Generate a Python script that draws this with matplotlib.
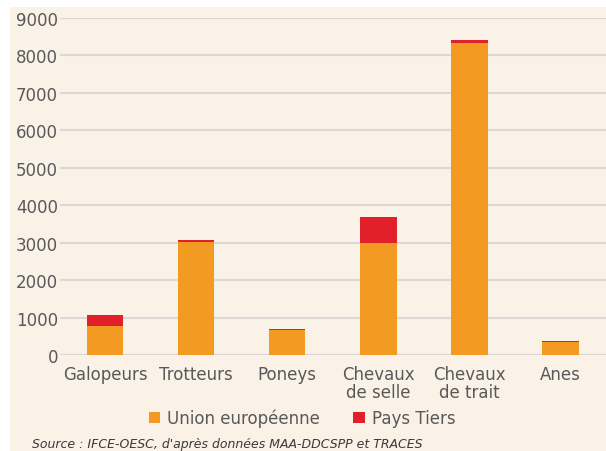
import matplotlib.pyplot as plt
from matplotlib.patches import Rectangle

# données
categories = ["Galopeurs", "Trotteurs", "Poneys", "Chevaux\nde selle", "Chevaux\nde trait", "Anes"]
union_europeenne = [780, 3010, 670, 2980, 8320, 335]
pays_tiers = [280, 50, 25, 710, 80, 28]
yticks = [0, 1000, 2000, 3000, 4000, 5000, 6000, 7000, 8000, 9000]

bg = "#FAF1E7"
orange = "#F29A21"
red = "#E2202B"
grey = "#595959"

fig = plt.figure(figsize=(6.06, 4.52), dpi=100)
fig.patch.set_facecolor("white")
# fond crème
fig.patches.append(Rectangle((10 / 606, 0), 1, 1 - 8 / 452, transform=fig.transFigure,
                             facecolor=bg, edgecolor="none", zorder=-1))

ax = fig.add_axes([59.5 / 606, 1 - 356 / 452, (606 - 59.5) / 606, (356 - 19) / 452])
ax.set_facecolor(bg)

x = range(len(categories))
ax.bar(x, union_europeenne, width=0.4, color=orange, label="Union européenne", zorder=3)
ax.bar(x, pays_tiers, width=0.4, bottom=union_europeenne, color=red, label="Pays Tiers", zorder=3)

ax.set_xlim(-0.5, len(categories) - 0.5)
ax.set_ylim(0, 9000)
ax.set_yticks(yticks)
ax.set_xticks(list(x))
ax.set_xticklabels(categories, linespacing=1.0)
ax.yaxis.grid(True, color="#DCD8D3", linewidth=1.5, zorder=0)
ax.tick_params(axis="both", length=0, labelsize=12, colors=grey)
ax.tick_params(axis="y", pad=1)
ax.tick_params(axis="x", pad=7)
for s in ax.spines.values():
    s.set_visible(False)

ax.legend(loc="center", bbox_to_anchor=(302 / 606, 1 - 419 / 452), bbox_transform=fig.transFigure,
          ncol=2, frameon=False, fontsize=12, handlelength=0.7, handleheight=0.7,
          handletextpad=0.4, columnspacing=2.0, labelcolor=grey)

fig.text(32 / 606, 1 - 445 / 452, "Source : IFCE-OESC, d'après données MAA-DDCSPP et TRACES",
         fontsize=9, style="italic", color="#3A3A3A", va="center")

fig.savefig("out.png", dpi=100, facecolor="white")
